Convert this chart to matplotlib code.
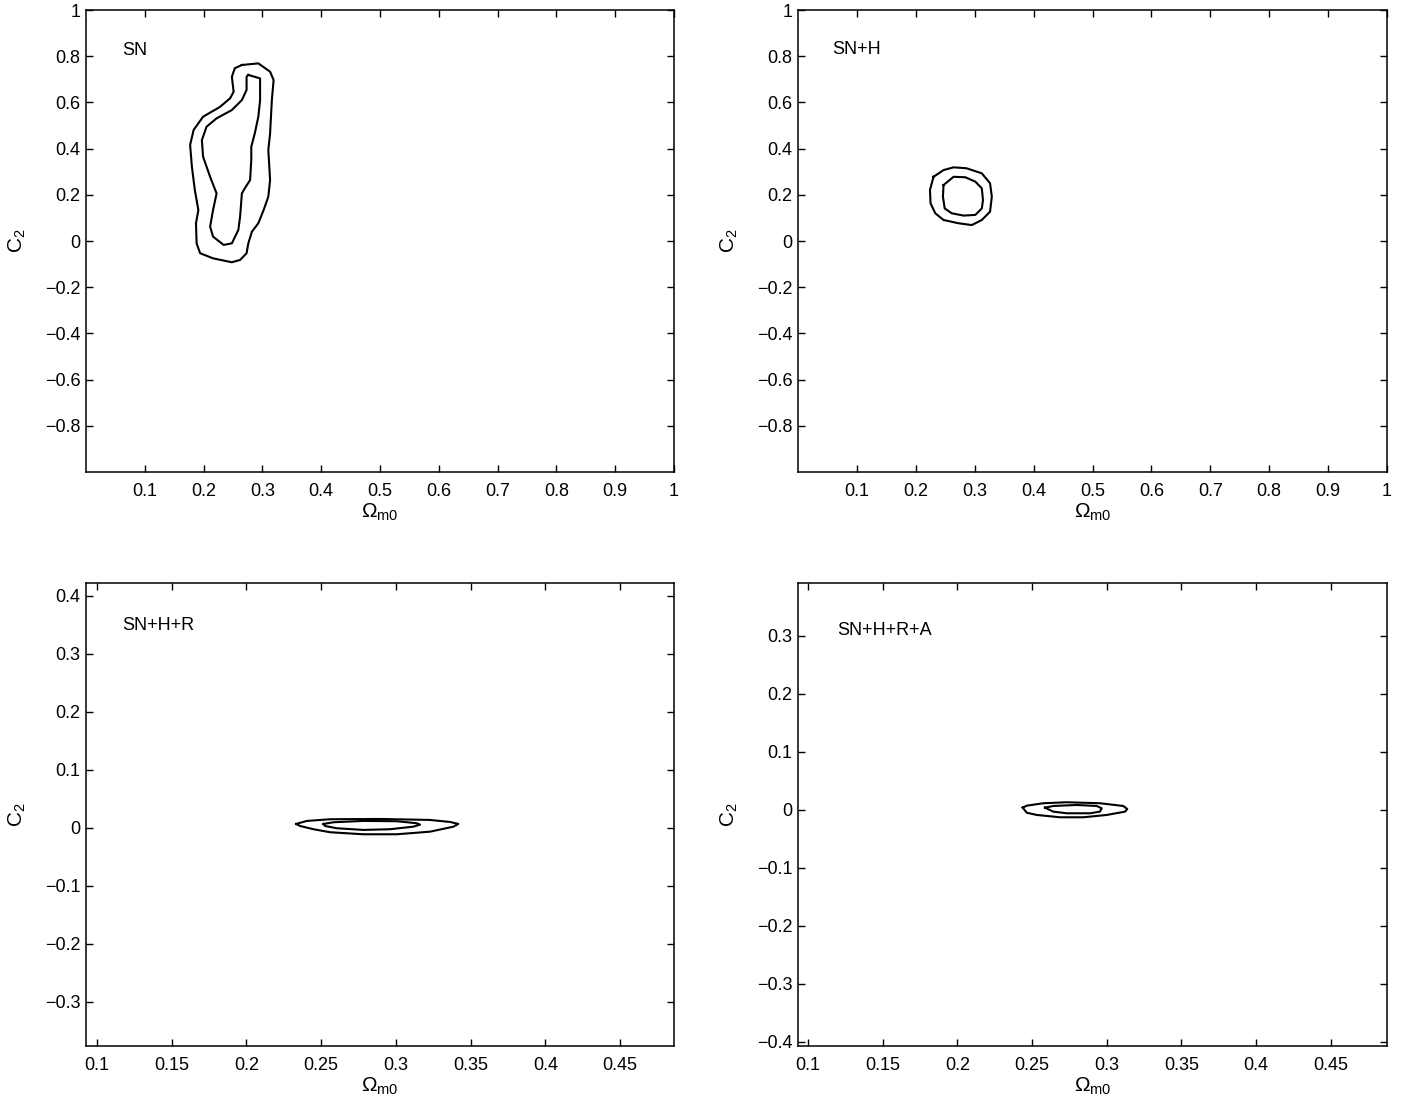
import matplotlib

matplotlib.use("Agg")
import matplotlib.pyplot as plt
from matplotlib.ticker import FuncFormatter

plt.rcParams["font.family"] = ["Liberation Sans", "DejaVu Sans"]
plt.rcParams["mathtext.default"] = "regular"

# confidence contours (Omega_m0, C2), 1-sigma inner / 2-sigma outer
sn_outer_om = [0.265, 0.293, 0.313, 0.319, 0.316, 0.313, 0.310, 0.313, 0.310, 0.302,
               0.293, 0.282, 0.276, 0.273, 0.262, 0.248, 0.216, 0.194, 0.188, 0.187,
               0.191, 0.185, 0.180, 0.177, 0.183, 0.199, 0.228, 0.245, 0.251, 0.248, 0.253]
sn_outer_c2 = [0.762, 0.769, 0.733, 0.697, 0.610, 0.466, 0.394, 0.264, 0.192, 0.134,
               0.077, 0.040, -0.010, -0.053, -0.082, -0.092, -0.075, -0.053, -0.010, 0.077,
               0.134, 0.221, 0.322, 0.416, 0.481, 0.538, 0.581, 0.618, 0.646, 0.711, 0.748]
sn_inner_om = [0.276, 0.296, 0.296, 0.293, 0.287, 0.281, 0.281, 0.279, 0.270, 0.265,
               0.262, 0.259, 0.248, 0.234, 0.216, 0.211, 0.216, 0.222, 0.211, 0.199,
               0.197, 0.205, 0.222, 0.248, 0.265, 0.273, 0.273]
sn_inner_c2 = [0.719, 0.704, 0.610, 0.538, 0.466, 0.408, 0.351, 0.264, 0.228, 0.206,
               0.105, 0.048, -0.010, -0.017, 0.019, 0.062, 0.134, 0.206, 0.278, 0.365,
               0.437, 0.495, 0.531, 0.567, 0.610, 0.654, 0.711]

snh_outer_om = [0.230, 0.247, 0.264, 0.286, 0.312, 0.326, 0.329, 0.326, 0.312, 0.295,
                0.272, 0.247, 0.233, 0.225, 0.224]
snh_outer_c2 = [0.278, 0.307, 0.319, 0.315, 0.293, 0.250, 0.192, 0.127, 0.091, 0.069,
                0.077, 0.091, 0.120, 0.163, 0.221]
snh_inner_om = [0.247, 0.264, 0.284, 0.301, 0.312, 0.314, 0.312, 0.301, 0.281, 0.261,
                0.249, 0.246]
snh_inner_c2 = [0.242, 0.278, 0.276, 0.257, 0.228, 0.177, 0.141, 0.113, 0.110, 0.120,
                0.141, 0.192]

snhr_outer_om = [0.2332, 0.2404, 0.2560, 0.2894, 0.3229, 0.3363, 0.3418, 0.3385, 0.3229,
                 0.3006, 0.2782, 0.2560, 0.2448, 0.2359]
snhr_outer_c2 = [0.0069, 0.0121, 0.0150, 0.0155, 0.0138, 0.0103, 0.0069, 0.0022, -0.0064,
                 -0.0109, -0.0109, -0.0074, -0.0022, 0.0034]
snhr_inner_om = [0.2515, 0.2582, 0.2782, 0.3006, 0.3140, 0.3162, 0.3117, 0.2961, 0.2782,
                 0.2604, 0.2526]
snhr_inner_c2 = [0.0069, 0.0098, 0.0121, 0.0116, 0.0081, 0.0057, 0.0022, -0.0022, -0.0034,
                 -0.0005, 0.0034]

snhra_outer_om = [0.2437, 0.2464, 0.2575, 0.2732, 0.2954, 0.3110, 0.3137, 0.3122, 0.2999,
                  0.2843, 0.2687, 0.2531, 0.2464]
snhra_outer_c2 = [0.0040, 0.0074, 0.0116, 0.0133, 0.0116, 0.0069, 0.0017, -0.0029, -0.0086,
                  -0.0126, -0.0126, -0.0086, -0.0047]
snhra_inner_om = [0.2586, 0.2642, 0.2798, 0.2932, 0.2966, 0.2954, 0.2888, 0.2732, 0.2642]
snhra_inner_c2 = [0.0040, 0.0069, 0.0086, 0.0069, 0.0029, -0.0029, -0.0057, -0.0057, -0.0029]

panel_titles = ["SN", "SN+H", "SN+H+R", "SN+H+R+A"]

top_xticks = [0.1, 0.2, 0.3, 0.4, 0.5, 0.6, 0.7, 0.8, 0.9, 1.0]
top_yticks = [-0.8, -0.6, -0.4, -0.2, 0.0, 0.2, 0.4, 0.6, 0.8, 1.0]
bot_xticks = [0.1, 0.15, 0.2, 0.25, 0.3, 0.35, 0.4, 0.45]
bl_yticks = [-0.3, -0.2, -0.1, 0.0, 0.1, 0.2, 0.3, 0.4]
br_yticks = [-0.4, -0.3, -0.2, -0.1, 0.0, 0.1, 0.2, 0.3]


def closed(xs, ys):
    return list(xs) + [xs[0]], list(ys) + [ys[0]]


tick_fmt = FuncFormatter(lambda v, _: f"{v:g}".replace("-", "\u2212"))

fig = plt.figure(figsize=(14.06, 11.01), dpi=100)
fig.patch.set_facecolor("white")

panels = [
    # rect, xlim, ylim, xticks, yticks, contours, title pos
    ([0.0612, 0.5713, 0.4182, 0.4196], (0, 1), (-1, 1), top_xticks, top_yticks,
     [(sn_outer_om, sn_outer_c2), (sn_inner_om, sn_inner_c2)], (0.061, 0.913)),
    ([0.5676, 0.5713, 0.4189, 0.4196], (0, 1), (-1, 1), top_xticks, top_yticks,
     [(snh_outer_om, snh_outer_c2), (snh_inner_om, snh_inner_c2)], (0.058, 0.915)),
    ([0.0612, 0.0500, 0.4182, 0.4205], (0.0926, 0.4862), (-0.3759, 0.4224), bot_xticks, bl_yticks,
     [(snhr_outer_om, snhr_outer_c2), (snhr_inner_om, snhr_inner_c2)], (0.061, 0.909)),
    ([0.5676, 0.0500, 0.4189, 0.4205], (0.0933, 0.4876), (-0.4069, 0.3914), bot_xticks, br_yticks,
     [(snhra_outer_om, snhra_outer_c2), (snhra_inner_om, snhra_inner_c2)], (0.066, 0.898)),
]

for (rect, xlim, ylim, xt, yt, contours, tpos), title in zip(panels, panel_titles):
    ax = fig.add_axes(rect)
    for xs, ys in contours:
        cx, cy = closed(xs, ys)
        ax.plot(cx, cy, color="black", lw=1.5)
    ax.set_xlim(*xlim)
    ax.set_ylim(*ylim)
    ax.set_xticks(xt)
    ax.set_yticks(yt)
    ax.xaxis.set_major_formatter(tick_fmt)
    ax.yaxis.set_major_formatter(tick_fmt)
    ax.tick_params(direction="in", top=True, right=True, length=5, width=1,
                   labelsize=13)
    ax.tick_params(axis="x", pad=8)
    ax.tick_params(axis="y", pad=4)
    for s in ax.spines.values():
        s.set_linewidth(1.1)
    ax.set_xlabel(r"$\Omega_{m0}$", fontsize=15, labelpad=1)
    ax.set_ylabel(r"$C_2$", fontsize=15, labelpad=12)
    ax.text(tpos[0], tpos[1], title, transform=ax.transAxes, ha="left", va="center",
            fontsize=13)

fig.savefig("out.png", dpi=100, facecolor="white")
